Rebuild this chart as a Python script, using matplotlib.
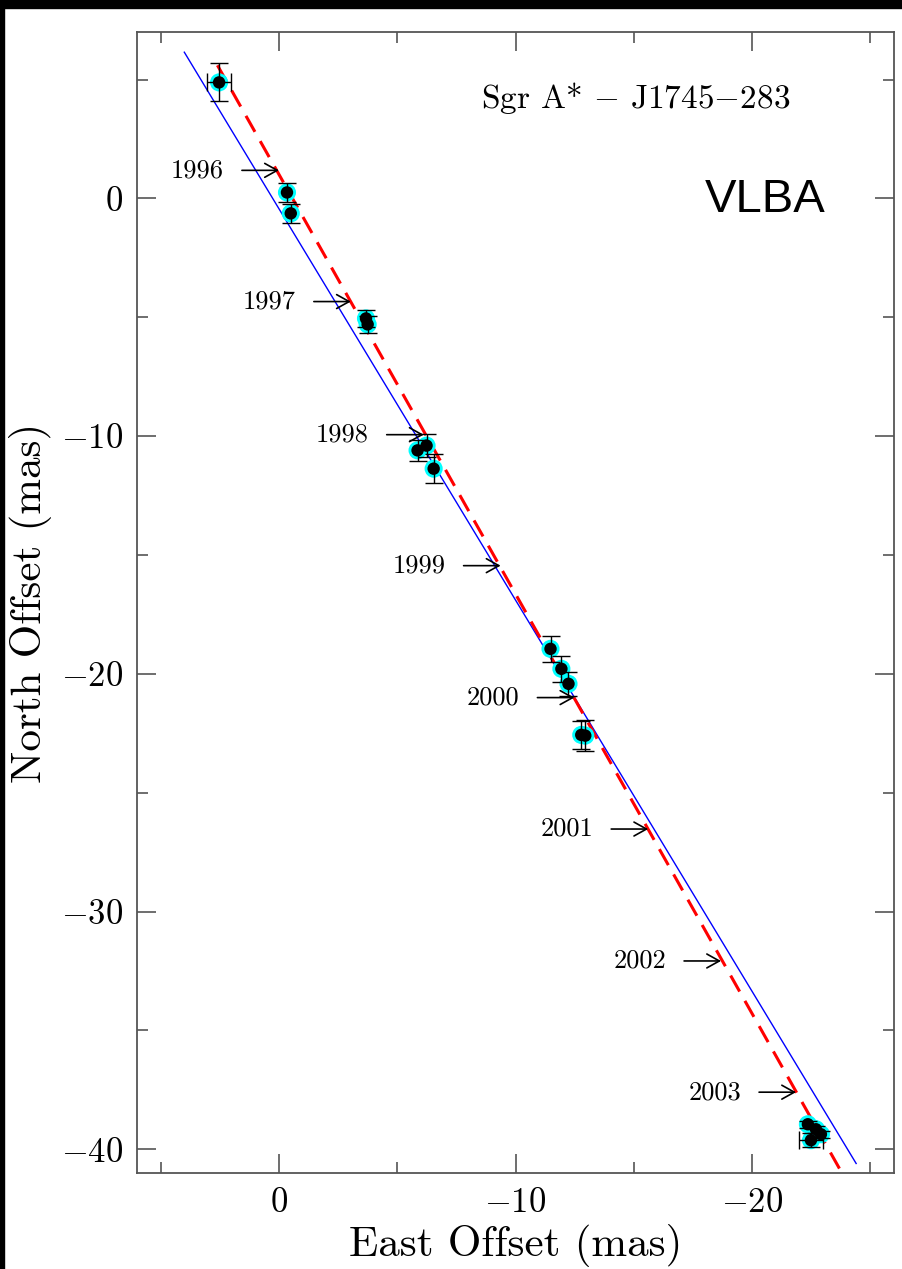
import numpy as np
import matplotlib
matplotlib.use("Agg")
import matplotlib.pyplot as plt
from matplotlib.ticker import MultipleLocator
from matplotlib.patches import Rectangle

plt.rcParams['font.family'] = 'cmr10'
plt.rcParams['mathtext.fontset'] = 'cm'
plt.rcParams['axes.formatter.use_mathtext'] = True

# Measured positions (mas)
pt_x = [2.53, -0.34, -0.50, -3.68, -3.75, -5.86, -6.24, -6.54,
        -11.48, -11.94, -12.24, -12.78, -12.95, -22.36, -22.70, -22.91, -22.49]
pt_y = [4.88, 0.25, -0.63, -5.05, -5.30, -10.60, -10.40, -11.37,
        -18.95, -19.79, -20.42, -22.57, -22.60, -38.95, -39.16, -39.37, -39.62]
pt_yerr = [0.8, 0.4, 0.4, 0.35, 0.35, 0.45, 0.5, 0.6,
           0.55, 0.55, 0.5, 0.6, 0.65, 0.15, 0.15, 0.15, 0.3]
pt_xerr = [0.5, 0, 0, 0, 0, 0, 0, 0, 0, 0, 0, 0, 0, 0, 0, 0, 0.5]

# fitted tracks
fit_x = [2.6, -23.8]
fit_y = [5.6, -41.0]
gal_x = [4.0, -24.4]
gal_y = [6.15, -40.6]

# year markers along the fit
years = ['1996', '1997', '1998', '1999', '2000', '2001', '2002', '2003']
year_x = [0.0, -3.04, -6.12, -9.37, -12.49, -15.61, -18.69, -21.86]
year_y = [1.18, -4.34, -9.94, -15.45, -21.0, -26.53, -32.08, -37.6]

fig = plt.figure(figsize=(9.02, 12.69), dpi=100)
ax = fig.add_axes([137/902, 96/1269, 757/902, 1141/1269])

ax.plot(gal_x, gal_y, color='blue', lw=1.0, zorder=2)
ax.plot(fit_x, fit_y, color='red', lw=2.2, dashes=(6, 3.5), zorder=3)

ax.scatter(pt_x, pt_y, s=170, color='cyan', edgecolors='none', zorder=4)
ax.scatter(pt_x, pt_y, s=80, color='black', edgecolors='none', zorder=5)

xe = np.array(pt_xerr)
has_x = xe > 0
ax.errorbar(pt_x, pt_y, yerr=pt_yerr, fmt='none', ecolor='black',
            elinewidth=1.0, capsize=6.5, capthick=1.0, zorder=6)
ax.errorbar(np.array(pt_x)[has_x], np.array(pt_y)[has_x], xerr=xe[has_x],
            fmt='none', ecolor='black', elinewidth=1.0, capsize=6.5,
            capthick=1.0, zorder=6)

for yr, hx, hy in zip(years, year_x, year_y):
    ax.annotate('', xy=(hx, hy), xytext=(-37, 0), textcoords='offset pixels',
                arrowprops=dict(arrowstyle='->,head_length=0.9,head_width=0.5',
                                color='black', lw=1.2, shrinkA=0, shrinkB=0),
                zorder=7)
    ax.annotate(yr, xy=(hx, hy), xytext=(-55, 0), textcoords='offset pixels',
                ha='right', va='center', fontsize=19, zorder=7)

ax.text(0.659, 0.942, r'Sgr A* $-$ J1745$-$283', transform=ax.transAxes,
        ha='center', va='center', fontsize=24)
ax.text(0.83, 0.853, 'VLBA', transform=ax.transAxes, ha='center',
        va='center', fontsize=34, family='Liberation Sans')

ax.set_xlim(6, -26)
ax.set_ylim(-41, 7)
ax.xaxis.set_major_locator(MultipleLocator(10))
ax.xaxis.set_minor_locator(MultipleLocator(5))
ax.yaxis.set_major_locator(MultipleLocator(10))
ax.yaxis.set_minor_locator(MultipleLocator(5))
ax.tick_params(which='both', direction='in', top=True, right=True,
               color='#555555', width=1.2, labelsize=25)
ax.tick_params(which='major', length=14, pad=10)
ax.tick_params(which='minor', length=8)
for sp in ax.spines.values():
    sp.set_color('#555555')
    sp.set_linewidth(1.3)

ax.set_xlabel('East Offset (mas)', fontsize=31, labelpad=4)
ax.set_ylabel('North Offset (mas)', fontsize=31, labelpad=6)

# black frame bits from the original screenshot
fig.patches.append(Rectangle((0, 1 - 8/1269), 1, 8/1269, transform=fig.transFigure,
                             color='black', zorder=10))
fig.patches.append(Rectangle((0, 0), 4/902, 1, transform=fig.transFigure,
                             color='black', zorder=10))

fig.savefig('out.png', dpi=100, facecolor='white')
